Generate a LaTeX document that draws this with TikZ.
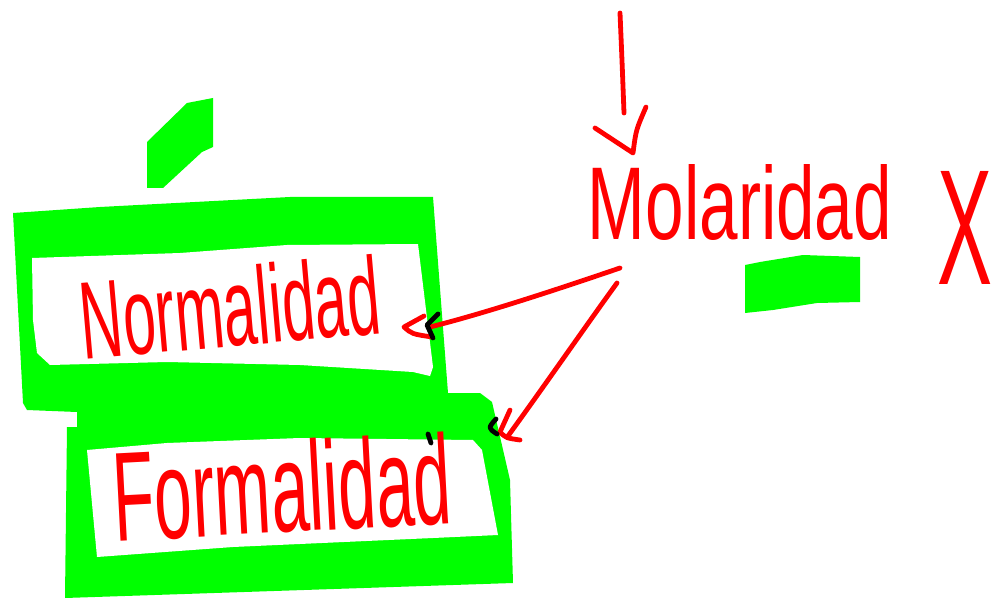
\documentclass[tikz,border=0pt]{standalone}
\usepackage{fontspec}
\setmainfont{Liberation Sans}
\definecolor{pengreen}{RGB}{0,255,0}
\definecolor{penred}{RGB}{255,0,0}
\newlength\pxu
\setlength\pxu{0.75pt}
\begin{document}
\begin{tikzpicture}[x=0.75pt,y=-0.75pt,
  redpen/.style={draw=penred,line width=3.6pt,line cap=round,line join=round},
  inkpen/.style={draw=black,line width=3.6pt,line cap=round,line join=round},
  handtext/.style={text=penred,inner sep=0pt}]
\useasboundingbox[fill=white] (0,0) rectangle (996,599);

% green highlighter strokes
\fill[pengreen] (147,142) -- (187,103) -- (213,98) -- (213,147) -- (202,152)
  -- (163,188) -- (147,188) -- cycle;
\fill[pengreen] (13,213) -- (100,207) -- (290,197) -- (433,197) -- (448,393)
  -- (480,393) -- (492,402) -- (510,480) -- (513,583) -- (65,598) -- (67,427)
  -- (77,427) -- (77,412) -- (27,410) -- (23,403) -- cycle;
\fill[white] (32,258) -- (180,253) -- (287,245) -- (418,244) -- (433,367)
  -- (430,376) -- (413,372) -- (300,365) -- (167,362) -- (50,365) -- (37,353)
  -- (33,320) -- cycle;
\fill[white] (87,450) -- (167,443) -- (300,438) -- (473,440) -- (482,450)
  -- (498,535) -- (433,538) -- (233,547) -- (97,557) -- cycle;
\fill[pengreen] (745,265) -- (760,262) -- (803,255) -- (860,257) -- (860,302)
  -- (817,303) -- (773,310) -- (745,313) -- cycle;

% handwritten words
\node[handtext, rotate=5] (norm) at (230,307) {\resizebox{300\pxu}{80\pxu}{Normalidad}};
\node[handtext, rotate=3] (form) at (282,487) {\resizebox{338\pxu}{92\pxu}{Formalidad}};
\node[handtext] (mol) at (740,203) {\resizebox{304\pxu}{75\pxu}{Molaridad}};
\node[handtext] (xmark) at (965,228) {\resizebox{55\pxu}{113\pxu}{X}};

% arrow pointing down to Molaridad
\coordinate (dtop) at (620,13);
\coordinate (dend) at (624,113);
\coordinate (dtip) at (633,153);
\draw[redpen] (dtop) .. controls (622,60) .. (dend);
\draw[redpen] (595,128) -- (dtip) .. controls (636,130) .. (646,107);

% Molaridad -> Normalidad
\coordinate (m1) at (620,268);
\coordinate (ntip) at (404,327);
\draw[redpen] (m1) .. controls (570,285) and (490,312) .. (430,327);
\draw[redpen] (424,316) -- (ntip) .. controls (412,334) .. (432,337);
\draw[inkpen] (438,314) -- (427,325) -- (433,338);

% Molaridad -> Formalidad
\coordinate (m2) at (617,283);
\coordinate (ftip) at (500,432);
\draw[redpen] (m2) .. controls (590,320) and (545,385) .. (508,436);
\draw[redpen] (510,410) -- (ftip) .. controls (506,438) .. (520,440);
\draw[inkpen] (496,419) .. controls (488,428) .. (497,434);
\draw[inkpen] (428,434) -- (431,443);
\end{tikzpicture}
\end{document}
